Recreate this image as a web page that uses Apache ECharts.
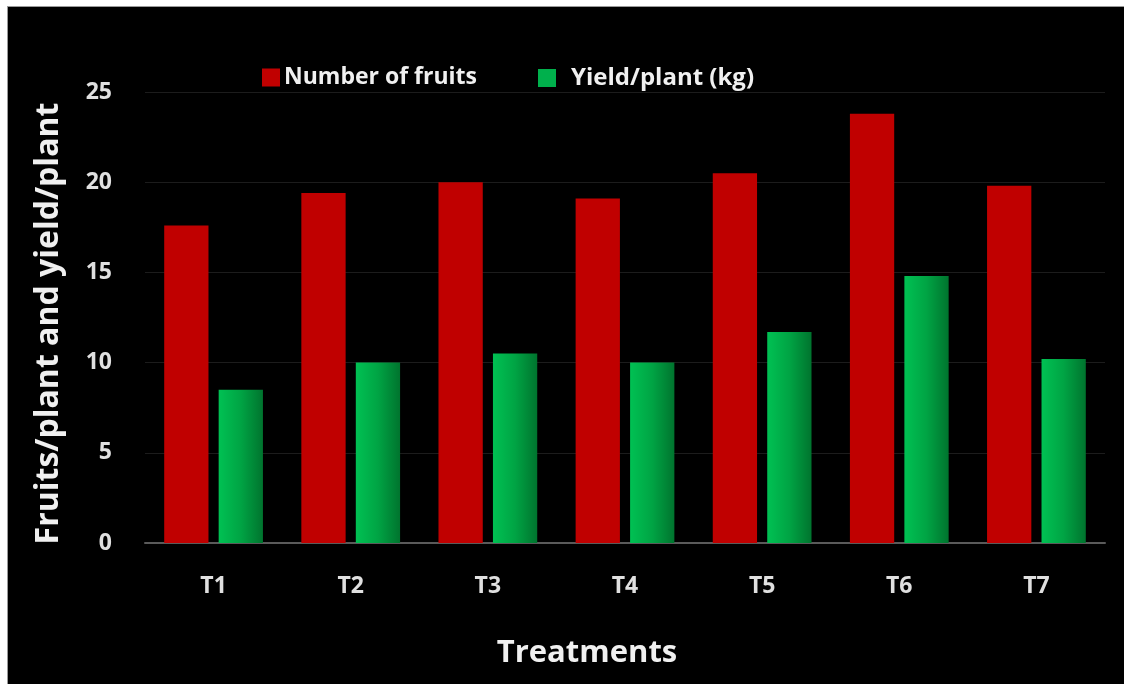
<!DOCTYPE html>
<html>
<head>
<meta charset="utf-8">
<script src="https://cdn.jsdelivr.net/npm/echarts@6/dist/echarts.min.js"></script>
<style>
  html, body { margin: 0; padding: 0; background: #ffffff; }
  #chart {
    position: absolute; left: 7px; top: 6px;
    width: 1117px; height: 678px;
    box-sizing: border-box;
    border-left: 1px solid #9a9a9a; border-top: 1px solid #9a9a9a;
    background: #000000;
  }
</style>
</head>
<body>
<div id="chart"></div>
<script>
// Treatments and measured values
const treatments = ['T1', 'T2', 'T3', 'T4', 'T5', 'T6', 'T7'];
const fruitsPerPlant = [17.6, 19.4, 20.0, 19.1, 20.5, 23.8, 19.8];
const yieldPerPlant = [8.5, 10.0, 10.5, 10.0, 11.7, 14.8, 10.2];
const yTicks = [0, 5, 10, 15, 20, 25];

const seriesNames = ['Number of fruits', 'Yield/plant (kg)'];
const FONT = '"Open Sans", Lato, sans-serif';

const greenFill = new echarts.graphic.LinearGradient(0, 0, 1, 0, [
  { offset: 0, color: '#00c153' },
  { offset: 0.5, color: '#00a444' },
  { offset: 1, color: '#00742e' }
]);

const chart = echarts.init(document.getElementById('chart'));
chart.setOption({
  backgroundColor: '#000000',
  animation: false,
  textStyle: { fontFamily: FONT },
  legend: [
    {
      data: [seriesNames[0]],
      left: 249, top: 54,
      itemWidth: 18, itemHeight: 18, itemGap: 0,
      textStyle: { color: '#f0f0f0', fontSize: 23, fontWeight: 'bold', fontFamily: FONT, padding: [0, 0, 0, -1] },
      icon: 'rect'
    },
    {
      data: [{ name: seriesNames[1], itemStyle: { color: '#00b04c' } }],
      left: 525, top: 54,
      itemWidth: 18, itemHeight: 18, itemGap: 0,
      textStyle: { color: '#f0f0f0', fontSize: 24, fontWeight: 'bold', fontFamily: FONT, padding: [0, 0, 0, 10] },
      icon: 'rect'
    }
  ],
  grid: { left: 137, right: 19, top: 85, bottom: 141, containLabel: false },
  xAxis: {
    type: 'category',
    data: treatments,
    name: 'Treatments',
    nameLocation: 'middle',
    nameGap: 95,
    nameTextStyle: { color: '#f0f0f0', fontSize: 31, fontWeight: 'bold', fontFamily: FONT, padding: [0, 76, 0, 0] },
    axisLine: { lineStyle: { color: '#5a5a5a', width: 2 } },
    axisTick: { show: false },
    axisLabel: { color: '#e0e0e0', fontSize: 23, fontWeight: 'bold', margin: 32, fontFamily: FONT },
    splitLine: { show: false }
  },
  yAxis: {
    type: 'value',
    min: yTicks[0],
    max: yTicks[yTicks.length - 1],
    interval: yTicks[1] - yTicks[0],
    name: 'Fruits/plant and yield/plant',
    nameLocation: 'middle',
    nameGap: 80,
    nameTextStyle: { color: '#f0f0f0', fontSize: 32, fontWeight: 'bold', fontFamily: FONT, padding: [0, 12, 0, 0] },
    axisLine: { show: false },
    axisTick: { show: false },
    axisLabel: { color: '#e0e0e0', fontSize: 23, fontWeight: 'bold', margin: 33, fontFamily: FONT },
    splitLine: { lineStyle: { color: '#1c1c1c', width: 1 } }
  },
  series: [
    {
      name: seriesNames[0],
      type: 'bar',
      data: fruitsPerPlant,
      barCategoryGap: '28%',
      barGap: '23%',
      itemStyle: { color: '#c00000' }
    },
    {
      name: seriesNames[1],
      type: 'bar',
      data: yieldPerPlant,
      barCategoryGap: '28%',
      barGap: '23%',
      itemStyle: { color: greenFill }
    }
  ]
});
</script>
</body>
</html>
